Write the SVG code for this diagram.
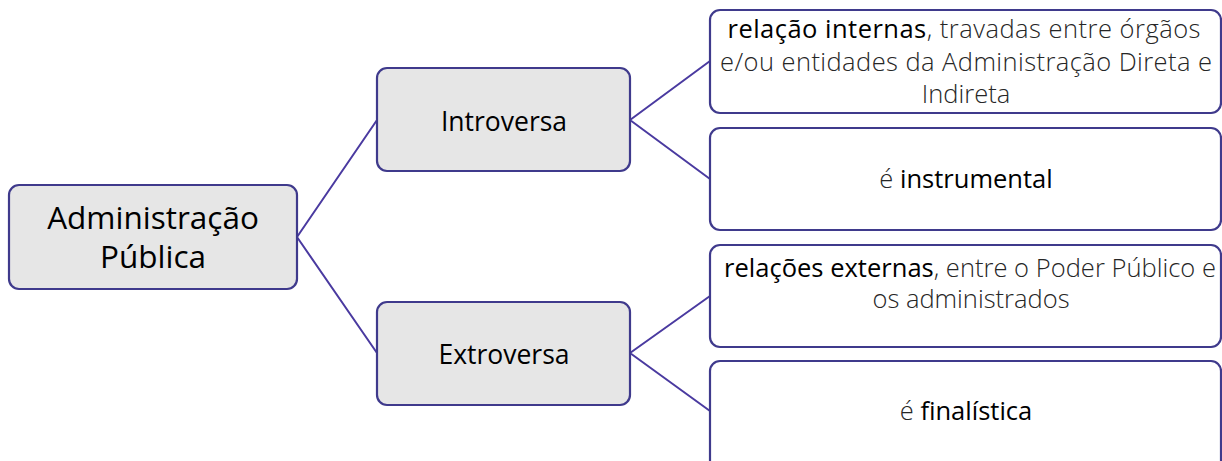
<svg xmlns="http://www.w3.org/2000/svg" width="1222" height="461" viewBox="0 0 1222 461">
<style>
.box{stroke:#3f3a8c;stroke-width:2.2}
.gray{fill:#e6e6e6}
.white{fill:#ffffff}
.link{fill:none;stroke:#4a3aa0;stroke-width:2}
text{font-family:"Open Sans","Noto Sans","Liberation Sans",sans-serif;text-anchor:middle;fill:#000}
.lt{font-weight:300;fill:#262626}
.em{font-weight:500;fill:#000}
.r{font-size:25.5px}
</style>
<rect width="1222" height="461" fill="#ffffff"/>
<g id="connectors">
<path class="link" d="M297,237 L377,120 M297,237 L377,353"/>
<path class="link" d="M630,120 L710,61 M630,120 L710,179"/>
<path class="link" d="M630,353 L710,296 M630,353 L710,411"/>
</g>
<g id="root">
<rect class="box gray" x="9" y="185" width="288" height="104" rx="10"/>
<text x="153" y="229" font-size="31.5" font-weight="400">Administração</text>
<text x="153" y="268" font-size="31.5" font-weight="400">Pública</text>
</g>
<g id="introversa">
<rect class="box gray" x="377" y="68" width="253" height="103" rx="10"/>
<text x="504" y="131" font-size="26.5" font-weight="400">Introversa</text>
</g>
<g id="extroversa">
<rect class="box gray" x="377" y="302" width="253" height="103" rx="10"/>
<text x="504" y="364" font-size="26.5" font-weight="400">Extroversa</text>
</g>
<g id="internas">
<rect class="box white" x="710" y="10" width="511" height="103" rx="10"/>
<text class="r" x="964" y="38" textLength="473"><tspan class="em">relação internas</tspan><tspan class="lt">, travadas entre órgãos</tspan></text>
<text class="r lt" x="966" y="71" textLength="492">e/ou entidades da Administração Direta e</text>
<text class="r lt" x="966" y="103">Indireta</text>
</g>
<g id="instrumental">
<rect class="box white" x="710" y="128" width="511" height="102" rx="10"/>
<text class="r" x="966" y="188"><tspan class="lt">é </tspan><tspan class="em">instrumental</tspan></text>
</g>
<g id="externas">
<rect class="box white" x="710" y="245" width="511" height="102" rx="10"/>
<text class="r" x="970" y="277" textLength="492"><tspan class="em">relações externas</tspan><tspan class="lt">, entre o Poder Público e</tspan></text>
<text class="r lt" x="971" y="308">os administrados</text>
</g>
<g id="finalistica">
<rect class="box white" x="710" y="361" width="511" height="110" rx="10"/>
<text class="r" x="966" y="420"><tspan class="lt">é </tspan><tspan class="em">finalística</tspan></text>
</g>
</svg>
